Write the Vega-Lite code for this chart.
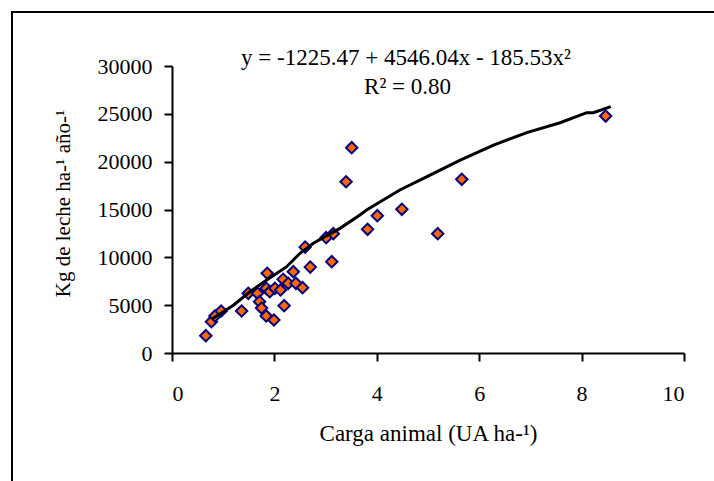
{
  "$schema": "https://vega.github.io/schema/vega-lite/v6.json",
  "width": 512,
  "height": 287,
  "autosize": {"type": "none"},
  "padding": {"left": 172, "top": 66, "right": 30, "bottom": 128},
  "background": "white",
  "config": {
    "view": {"stroke": null},
    "font": "Liberation Serif",
    "axis": {
      "grid": false,
      "domainColor": "black",
      "domainWidth": 2,
      "tickColor": "black",
      "tickWidth": 2,
      "tickSize": 8,
      "labelFont": "Liberation Serif",
      "labelFontSize": 22,
      "labelColor": "black",
      "titleFont": "Liberation Serif",
      "titleFontWeight": "normal",
      "titleColor": "black"
    }
  },
  "datasets": {
    "points": [
      {"x": 0.66, "y": 1810}, {"x": 0.77, "y": 3270}, {"x": 0.84, "y": 3870}, {"x": 0.96, "y": 4390},
      {"x": 1.36, "y": 4390}, {"x": 1.49, "y": 6240}, {"x": 1.67, "y": 6240}, {"x": 1.71, "y": 5370},
      {"x": 1.75, "y": 4700}, {"x": 1.84, "y": 3870}, {"x": 1.86, "y": 8330}, {"x": 1.84, "y": 6760},
      {"x": 1.91, "y": 6410}, {"x": 1.99, "y": 3450}, {"x": 2.01, "y": 6760}, {"x": 2.12, "y": 6590},
      {"x": 2.17, "y": 7700}, {"x": 2.19, "y": 4950}, {"x": 2.27, "y": 7280}, {"x": 2.37, "y": 8500},
      {"x": 2.42, "y": 7280}, {"x": 2.55, "y": 6830}, {"x": 2.6, "y": 11070}, {"x": 2.7, "y": 8980},
      {"x": 3.01, "y": 12050}, {"x": 3.12, "y": 9550}, {"x": 3.15, "y": 12470}, {"x": 3.4, "y": 17900},
      {"x": 3.51, "y": 21460}, {"x": 3.82, "y": 12930}, {"x": 4.01, "y": 14350}, {"x": 4.49, "y": 15020},
      {"x": 5.19, "y": 12470}, {"x": 5.66, "y": 18160}, {"x": 8.47, "y": 24770}
    ],
    "trend": [
      {"x": 0.78, "y": 3550}, {"x": 1.2, "y": 5000}, {"x": 1.52, "y": 6400}, {"x": 1.85, "y": 7630},
      {"x": 2.24, "y": 9020}, {"x": 2.5, "y": 10420}, {"x": 2.76, "y": 11470}, {"x": 3.28, "y": 13030},
      {"x": 3.67, "y": 14420}, {"x": 3.8, "y": 14950}, {"x": 4.45, "y": 17040}, {"x": 5.04, "y": 18600},
      {"x": 5.63, "y": 20170}, {"x": 6.28, "y": 21740}, {"x": 6.93, "y": 23030}, {"x": 7.58, "y": 24070},
      {"x": 8.1, "y": 25120}, {"x": 8.23, "y": 25120}, {"x": 8.57, "y": 25750}
    ]
  },
  "layer": [
    {
      "data": {"values": [{}]},
      "mark": {"type": "rect", "fill": null, "stroke": "black", "strokeWidth": 2, "clip": false},
      "encoding": {
        "x": {"datum": -3.125, "type": "quantitative", "scale": {"domain": [0, 10], "nice": false}},
        "x2": {"datum": 10.9},
        "y": {"datum": 35640, "type": "quantitative", "scale": {"domain": [0, 30000], "nice": false}},
        "y2": {"datum": -16000}
      }
    },
    {
      "data": {"name": "points"},
      "mark": {"type": "point", "shape": "diamond", "filled": true, "fill": "#FF6600", "stroke": "#000080", "strokeWidth": 2, "size": 130, "opacity": 1},
      "encoding": {
        "x": {"field": "x", "type": "quantitative", "scale": {"domain": [0, 10], "nice": false},
          "axis": {"values": [0, 2, 4, 6, 8, 10], "title": "Carga animal (UA ha-¹)", "titleFontSize": 23, "labelPadding": 22, "titlePadding": 18}},
        "y": {"field": "y", "type": "quantitative", "scale": {"domain": [0, 30000], "nice": false},
          "axis": {"values": [0, 5000, 10000, 15000, 20000, 25000, 30000], "format": "d", "title": "Kg de leche ha-¹ año-¹", "titleFontSize": 21, "titleY": 137, "labelPadding": 12, "titlePadding": 24}}
      }
    },
    {
      "data": {"name": "trend"},
      "mark": {"type": "line", "color": "black", "strokeWidth": 3},
      "encoding": {
        "x": {"field": "x", "type": "quantitative"},
        "y": {"field": "y", "type": "quantitative"}
      }
    },
    {
      "data": {"values": [{}]},
      "mark": {"type": "text", "fontSize": 23, "color": "black", "align": "center", "baseline": "alphabetic", "clip": false},
      "encoding": {
        "x": {"datum": 4.57, "type": "quantitative"},
        "y": {"datum": 30104, "type": "quantitative"},
        "text": {"value": "y = -1225.47 + 4546.04x - 185.53x²"}
      }
    },
    {
      "data": {"values": [{}]},
      "mark": {"type": "text", "fontSize": 23, "color": "black", "align": "center", "baseline": "alphabetic", "clip": false},
      "encoding": {
        "x": {"datum": 4.6, "type": "quantitative"},
        "y": {"datum": 27072, "type": "quantitative"},
        "text": {"value": "R² = 0.80"}
      }
    }
  ]
}
